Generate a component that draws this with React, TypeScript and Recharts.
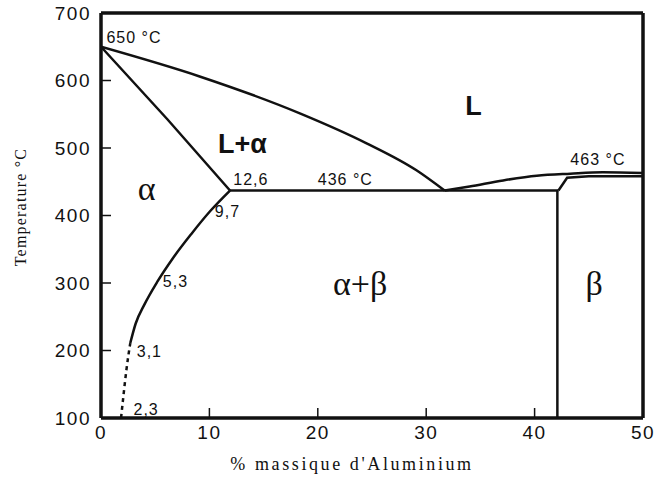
import { LineChart, Line, XAxis, YAxis, ReferenceLine, ReferenceDot, Label } from "recharts";

// Mg–Al phase diagram (Mg-rich side), temperatures in °C, x in wt% Al
const liquidusAlpha = [
  { x: 0, t: 650 },
  { x: 9.1, t: 606 },
  { x: 18.4, t: 551 },
  { x: 24.5, t: 507 },
  { x: 29.1, t: 467 },
  { x: 31.7, t: 437 },
];

const solidusAlpha = [
  { x: 0, t: 650 },
  { x: 6.1, t: 543 },
  { x: 11.9, t: 437 },
];

const solvusAlpha = [
  { x: 2.7, t: 211 },
  { x: 3.2, t: 240 },
  { x: 4.0, t: 268 },
  { x: 5.2, t: 302 },
  { x: 6.6, t: 336 },
  { x: 8.3, t: 372 },
  { x: 10.1, t: 407 },
  { x: 11.9, t: 437 },
];

const solvusDashed = [
  { x: 1.85, t: 100 },
  { x: 2.05, t: 130 },
  { x: 2.35, t: 172 },
  { x: 2.7, t: 211 },
];

const eutectic = [
  { x: 11.9, t: 437 },
  { x: 42.2, t: 437 },
];

const liquidusBeta = [
  { x: 31.7, t: 437 },
  { x: 34, t: 443 },
  { x: 37.1, t: 452 },
  { x: 40.2, t: 459 },
  { x: 43.3, t: 462 },
  { x: 46.3, t: 464 },
  { x: 50, t: 463 },
];

const solidusBeta = [
  { x: 42.2, t: 437 },
  { x: 43.0, t: 456 },
  { x: 45, t: 458 },
  { x: 50, t: 458 },
];

const solvusBeta = [
  { x: 42.1, t: 100 },
  { x: 42.1, t: 437 },
];

const xTicks = [0, 10, 20, 30, 40, 50];
const yTicks = [100, 200, 300, 400, 500, 600, 700];

// text annotations placed in data coordinates (baseline at t)
const notes = [
  { text: "650 °C", x: 0.5, t: 656, kind: "small" },
  { text: "12,6", x: 12.2, t: 445, kind: "small" },
  { text: "436 °C", x: 20.0, t: 445, kind: "small" },
  { text: "9,7", x: 10.5, t: 398, kind: "small" },
  { text: "5,3", x: 5.7, t: 294, kind: "small" },
  { text: "3,1", x: 3.3, t: 190, kind: "small" },
  { text: "2,3", x: 3.0, t: 104, kind: "small" },
  { text: "463 °C", x: 43.3, t: 475, kind: "small" },
  { text: "L+α", x: 10.8, t: 493, kind: "bold" },
  { text: "L", x: 33.6, t: 549, kind: "bold" },
  { text: "α", x: 3.4, t: 423, kind: "greek" },
  { text: "α+β", x: 21.4, t: 282, kind: "greek" },
  { text: "β", x: 44.7, t: 282, kind: "greek" },
];

const SANS = "Arial, 'Liberation Sans', sans-serif";
const SERIF = "'Times New Roman', 'Liberation Serif', serif";

const noteStyle: Record<string, any> = {
  small: { fontFamily: SANS, fontSize: 16, letterSpacing: 1 },
  bold: { fontFamily: SANS, fontSize: 27, fontWeight: 700 },
  greek: { fontFamily: SERIF, fontSize: 34 },
};

const INK = "#111";

export default function App() {
  const line = (data: { x: number; t: number }[], key: string, type: any = "linear", dash?: string) => (
    <Line
      key={key}
      data={data}
      dataKey="t"
      type={type}
      stroke={INK}
      strokeWidth={2.5}
      strokeDasharray={dash}
      dot={false}
      activeDot={false}
      isAnimationActive={false}
    />
  );

  return (
    <div style={{ position: "absolute", left: 0, top: 0, width: 654, height: 477, background: "#fff" }}>
      <LineChart width={654} height={477} margin={{ top: 13, right: 11, left: 0, bottom: 0 }}>
        <XAxis
          dataKey="x"
          type="number"
          domain={[0, 50]}
          ticks={xTicks}
          allowDataOverflow
          height={59}
          tickSize={-10}
          tickMargin={18}
          axisLine={{ stroke: INK, strokeWidth: 3.5 }}
          tickLine={{ stroke: INK, strokeWidth: 1.5 }}
          tick={{ fill: INK, fontFamily: SANS, fontSize: 19, letterSpacing: 1.5 }}
        >
          <Label
            content={({ viewBox }: any) => (
              <text
                x={viewBox.x + viewBox.width / 2 - 20}
                y={viewBox.y + 52}
                textAnchor="middle"
                fill={INK}
                fontFamily={SERIF}
                fontSize={18}
                letterSpacing={2.6}
              >
                % massique d'Aluminium
              </text>
            )}
          />
        </XAxis>
        <YAxis
          type="number"
          domain={[100, 700]}
          ticks={yTicks}
          allowDataOverflow
          width={101}
          tickSize={-10}
          tickMargin={20}
          axisLine={{ stroke: INK, strokeWidth: 3.5 }}
          tickLine={{ stroke: INK, strokeWidth: 1.5 }}
          tick={{ fill: INK, fontFamily: SANS, fontSize: 19, letterSpacing: 1.5 }}
        >
          <Label
            content={() => (
              <text
                x={20}
                y={207}
                transform="rotate(-90 20 207)"
                textAnchor="middle"
                dominantBaseline="central"
                fill={INK}
                fontFamily={SERIF}
                fontSize={16}
                letterSpacing={1.2}
              >
                Temperature °C
              </text>
            )}
          />
        </YAxis>

        <ReferenceLine y={700} stroke={INK} strokeWidth={3.5} />
        <ReferenceLine x={50} stroke={INK} strokeWidth={3.5} />

        {line(liquidusAlpha, "liqA", "monotone")}
        {line(solidusAlpha, "solA")}
        {line(solvusAlpha, "svA", "monotone")}
        {line(solvusDashed, "svAd", "monotone", "4 4")}
        {line(eutectic, "eut")}
        {line(liquidusBeta, "liqB", "monotone")}
        {line(solidusBeta, "solB")}
        {line(solvusBeta, "svB")}

        {notes.map((n) => (
          <ReferenceDot
            key={n.text}
            x={n.x}
            y={n.t}
            r={0}
            shape={(p: any) => (
              <text x={p.cx} y={p.cy} fill={INK} textAnchor="start" {...noteStyle[n.kind]}>
                {n.text}
              </text>
            )}
          />
        ))}
      </LineChart>
    </div>
  );
}
